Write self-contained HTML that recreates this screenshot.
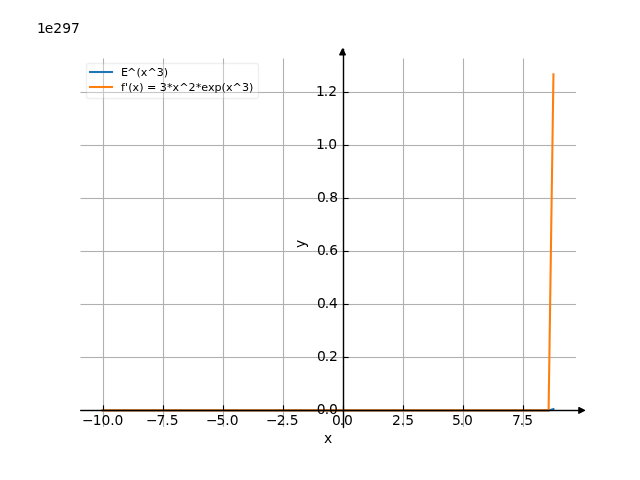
<!DOCTYPE html>
<html lang="en">
<head>
<meta charset="utf-8">
<title>Plot</title>
<style>
html,body{margin:0;padding:0;background:#fff;overflow:hidden}
svg{display:block}
text{font-family:"DejaVu Sans","Liberation Sans",sans-serif;fill:#000}
.t{font-size:13.889px}
.l{font-size:11.111px}
.g{stroke:#b0b0b0;stroke-width:1.111;fill:none}
.g .g1{stroke-width:1}
.g .g3{stroke-width:3;stroke-opacity:.055}
.k{stroke:#000;stroke-width:1.111;fill:none}
</style>
</head>
<body>
<svg width="640" height="480" viewBox="0 0 640 480">
<rect width="640" height="480" fill="#fff"/>
<clipPath id="c"><rect x="80.0" y="57.6" width="496.0" height="369.6"/></clipPath>
<g class="g" clip-path="url(#c)">
<path d="M103.5 58.5V427"/>
<path d="M163.5 58.5V427"/>
<path d="M223.5 58.5V427"/>
<path d="M283.5 58.5V427"/>
<path d="M343.5 58.5V427"/>
<path d="M403.5 58.5V427"/>
<path d="M463.5 58.5V427"/>
<path d="M523.5 58.5V427"/>
<path class="g1" d="M80.5 410.5H576"/><path class="g3" d="M80.5 410.5H576"/>
<path class="g1" d="M80.5 357.5H576"/><path class="g3" d="M80.5 357.5H576"/>
<path class="g1" d="M80.5 304.5H576"/><path class="g3" d="M80.5 304.5H576"/>
<path class="g1" d="M80.5 251.5H576"/><path class="g3" d="M80.5 251.5H576"/>
<path class="g1" d="M80.5 198.5H576"/><path class="g3" d="M80.5 198.5H576"/>
<path class="g1" d="M80.5 145.5H576"/><path class="g3" d="M80.5 145.5H576"/>
<path class="g1" d="M80.5 92.5H576"/><path class="g3" d="M80.5 92.5H576"/>
</g>
<path d="M102.55 410.40 L548.61 410.40 L553.45 408.95" fill="none" stroke="#1f77b4" stroke-width="2.083" stroke-linecap="square" stroke-linejoin="round" clip-path="url(#c)"/>
<path d="M102.55 410.40 L548.61 410.40 L553.45 74.40" fill="none" stroke="#ff7f0e" stroke-width="2.083" stroke-linecap="square" stroke-linejoin="round" clip-path="url(#c)"/>
<g class="k">
<path d="M103.5 410.5v-5.2"/>
<path d="M163.5 410.5v-5.2"/>
<path d="M223.5 410.5v-5.2"/>
<path d="M283.5 410.5v-5.2"/>
<path d="M343.5 410.5v-5.2"/>
<path d="M403.5 410.5v-5.2"/>
<path d="M463.5 410.5v-5.2"/>
<path d="M523.5 410.5v-5.2"/>
<path d="M343.5 410.5h5.2"/>
<path d="M343.5 357.5h5.2"/>
<path d="M343.5 304.5h5.2"/>
<path d="M343.5 251.5h5.2"/>
<path d="M343.5 198.5h5.2"/>
<path d="M343.5 145.5h5.2"/>
<path d="M343.5 92.5h5.2"/>
</g>
<path d="M80.5 410.5H584.45" stroke="#000" stroke-width="1" stroke-linecap="round" fill="none"/>
<path d="M80.5 410.5H579.45" stroke="#000" stroke-width="3" stroke-opacity=".2" fill="none"/>
<path d="M578.89 407.62L584.45 410.40L578.89 413.18Z" fill="#000" stroke="#000" stroke-width="1.389" stroke-linejoin="round"/>
<path d="M343.5 427.5V49.14" stroke="#000" stroke-width="1.389" stroke-linecap="round" fill="none"/>
<path d="M339.77 54.70L342.55 49.14L345.32 54.70Z" fill="#000" stroke="#000" stroke-width="1.389" stroke-linejoin="round"/>
<text class="t" x="82.03 92.66 101.49 110.3 114.47" y="424.57">−10.0</text>
<text class="t" x="145.95 156.57 165.15 169.81" y="424.57">−7.5</text>
<text class="t" x="205.95 216.57 225.15 229.81" y="424.57">−5.0</text>
<text class="t" x="265.95 276.82 285.15 289.81" y="424.57">−2.5</text>
<text class="t" x="332.01 339.82 344" y="424.57">0.0</text>
<text class="t" x="392.01 400.82 405.25" y="424.57">2.5</text>
<text class="t" x="452.01 459.82 464" y="424.57">5.0</text>
<text class="t" x="512.01 519.82 524.25" y="424.57">7.5</text>
<text class="t" x="323.89" y="443.26">x</text>
<text class="t" text-anchor="middle" transform="translate(304.76 243.9) rotate(-90)">y</text>
<text class="t" x="316.85 324.66 329.09" y="414.23">0.0</text>
<text class="t" x="317.1 324.66 329.09" y="361.24">0.2</text>
<text class="t" x="317.1 324.66 329.09" y="308.24">0.4</text>
<text class="t" x="317.1 324.66 329.34" y="255.25">0.6</text>
<text class="t" x="317.1 324.66 329.34" y="202.25">0.8</text>
<text class="t" x="316.1 323.66 328.34" y="149.25">1.0</text>
<text class="t" x="316.1 323.66 328.34" y="96.26">1.2</text>
<text class="t" x="36.89 44.7 53.25 62.33 70.91" y="33.18">1e297</text>
<rect x="86.5" y="63.5" width="172" height="35" rx="2.22" fill="#fff" stroke="#ccc" stroke-width="1.389" opacity="0.3"/>
<rect x="88.96" y="70.96" width="24.08" height="2.08" fill="#1f77b4"/>
<rect x="88.96" y="85.96" width="24.08" height="2.08" fill="#ff7f0e"/>
<text class="l" x="121.11 126.88 136.42 140.77 147.59 156.64 163.72" y="76.04">E^(x^3)</text>
<text class="l" x="121.11 125.02 128.31 132.41 139.22 143.31 147.09 156.16 159.69 167 172.55 179.13 188.44 195.75 201.31 207.95 214.52 221.58 225.91 232.49 242.05 249.11" y="91.35">f'(x) = 3*x^2*exp(x^3)</text>
</svg>
</body>
</html>
